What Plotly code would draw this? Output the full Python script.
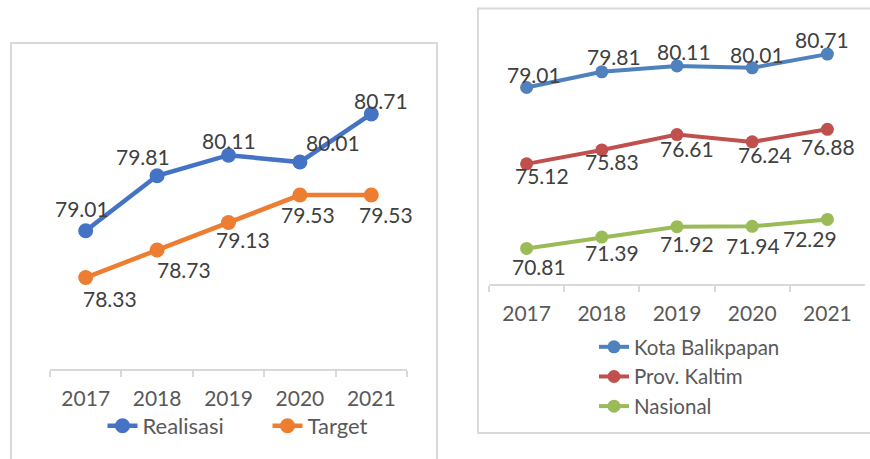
import plotly.graph_objects as go

YEARS = ["2017", "2018", "2019", "2020", "2021"]

# left chart
REALISASI = [79.01, 79.81, 80.11, 80.01, 80.71]
TARGET = [78.33, 78.73, 79.13, 79.53, 79.53]

# right chart
KOTA_BALIKPAPAN = [79.01, 79.81, 80.11, 80.01, 80.71]
PROV_KALTIM = [75.12, 75.83, 76.61, 76.24, 76.88]
NASIONAL = [70.81, 71.39, 71.92, 71.94, 72.29]

BLUE = "#4472C4"
ORANGE = "#ED7D31"
BLUE2 = "#4F81BD"
RED2 = "#C0504D"
GREEN2 = "#9BBB59"
BORDER = "#D9D9D9"
LABEL = "#404040"
TICK = "#595959"
FONT = "Lato"
W, H = 870, 459

# label offsets in pixels (dx, dy screen-down), like excel's hand-nudged labels
OFF_REAL = [(-4, -22), (-14, -19), (0, -15), (33, -20), (10, -13)]
OFF_TARG = [(24, 21), (27, 19), (14, 17), (8, 19), (15, 19)]
OFF_KOTA = [(7, -13), (12, -15), (7, -14), (5, -13), (-5, -15)]
OFF_PROV = [(15, 12), (10, 12), (10, 14), (13, 13), (1, 17)]
OFF_NAS = [(12, 18), (10, 15), (10, 17), (1, 19), (-17, 19)]


def line(name, vals, color, xa, ya, legend, width, size):
    return go.Scatter(
        x=YEARS, y=vals, name=name, mode="lines+markers",
        line=dict(color=color, width=width),
        marker=dict(color=color, size=size),
        xaxis=xa, yaxis=ya, legend=legend, hoverinfo="skip",
    )


def labels(vals, offsets, xref, yref):
    # category axes want the serial index for annotations
    out = []
    for i, (v, (dx, dy)) in enumerate(zip(vals, offsets)):
        out.append(dict(
            x=i, y=v, xref=xref, yref=yref, text=f"{v:.2f}",
            showarrow=False, xshift=dx, yshift=-dy,
            font=dict(family=FONT, size=21, color=LABEL),
        ))
    return out


fig = go.Figure()
fig.add_trace(line("Realisasi", REALISASI, BLUE, "x", "y", "legend", 4.5, 15))
fig.add_trace(line("Target", TARGET, ORANGE, "x", "y", "legend", 4.5, 15))
fig.add_trace(line("Kota Balikpapan", KOTA_BALIKPAPAN, BLUE2, "x2", "y2", "legend2", 4, 13))
fig.add_trace(line("Prov. Kaltim", PROV_KALTIM, RED2, "x2", "y2", "legend2", 4, 13))
fig.add_trace(line("Nasional", NASIONAL, GREEN2, "x2", "y2", "legend2", 4, 13))

ann = []
ann += labels(REALISASI, OFF_REAL, "x", "y")
ann += labels(TARGET, OFF_TARG, "x", "y")
ann += labels(KOTA_BALIKPAPAN, OFF_KOTA, "x2", "y2")
ann += labels(PROV_KALTIM, OFF_PROV, "x2", "y2")
ann += labels(NASIONAL, OFF_NAS, "x2", "y2")

xaxis_style = dict(
    type="category", range=[-0.5, 4.5], showgrid=False, zeroline=False,
    showline=True, linecolor=BORDER, linewidth=2,
    ticks="outside", tickson="boundaries", ticklen=6, tickcolor=BORDER, tickwidth=2,
    ticklabelstandoff=10,
    tickfont=dict(family=FONT, size=21, color=TICK),
)
yaxis_style = dict(visible=False, showgrid=False, zeroline=False)

fig.update_layout(
    width=W, height=H,
    margin=dict(l=0, r=0, t=0, b=0),
    paper_bgcolor="white", plot_bgcolor="white",
    font=dict(family=FONT, size=21, color=TICK),
    xaxis=dict(domain=[50 / W, 407 / W], anchor="y", **xaxis_style),
    yaxis=dict(domain=[90 / H, 365 / H], range=[77, 81], anchor="x", **yaxis_style),
    xaxis2=dict(domain=[489 / W, 865 / W], anchor="y2", **xaxis_style),
    yaxis2=dict(domain=[175 / H, 430.2 / H], range=[69, 82], anchor="x2", **yaxis_style),
    legend=dict(
        orientation="h", x=267.5 / W, xanchor="center", y=33 / H, yanchor="middle",
        font=dict(family=FONT, size=22, color=TICK), bgcolor="rgba(0,0,0,0)",
        entrywidth=120, itemclick=False,
    ),
    legend2=dict(
        orientation="v", x=594 / W, xanchor="left", y=(H - 327) / H, yanchor="top",
        font=dict(family=FONT, size=20.5, color=TICK), bgcolor="rgba(0,0,0,0)",
        tracegroupgap=0, itemclick=False,
    ),
    annotations=ann,
    showlegend=True,
)

# chart-area borders
fig.add_shape(type="rect", xref="paper", yref="paper",
              x0=11 / W, x1=437 / W, y0=-0.1, y1=(H - 43) / H,
              line=dict(color=BORDER, width=2), fillcolor="rgba(0,0,0,0)", layer="below")
fig.add_shape(type="rect", xref="paper", yref="paper",
              x0=478 / W, x1=1.1, y0=(H - 433) / H, y1=(H - 8.5) / H,
              line=dict(color=BORDER, width=2), fillcolor="rgba(0,0,0,0)", layer="below")

# drop the default 8px body margin so the figure sits at the page corner
fig.write_html("out.html", config={"displayModeBar": False},
               post_script="document.body.style.margin='0';")
